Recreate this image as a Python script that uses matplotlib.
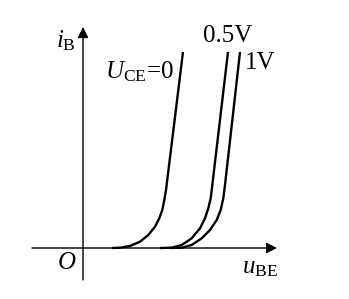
'''transistor input characteristic: i_B vs u_BE for three U_CE values'''

import matplotlib
matplotlib.use('Agg')
import matplotlib.pyplot as plt

plt.rcParams['mathtext.fontset'] = 'custom'
plt.rcParams['mathtext.rm'] = 'Liberation Serif'
plt.rcParams['mathtext.it'] = 'Liberation Serif:italic'
plt.rcParams['font.family'] = 'Liberation Serif'

# curves (u_BE, i_B), arbitrary units
u0 = [0.29, 0.37, 0.47, 0.57, 0.653, 0.72, 0.763, 0.793, 0.813, 0.83, 1.00]
i0 = [0.00, 0.003, 0.02, 0.063, 0.13, 0.213, 0.297, 0.38, 0.48, 0.58, 1.96]

u05 = [0.77, 0.887, 0.987, 1.087, 1.17, 1.22, 1.253, 1.277, 1.293, 1.45]
i05 = [0.00, 0.003, 0.03, 0.097, 0.197, 0.297, 0.397, 0.497, 0.63, 1.96]

u1 = [0.87, 0.987, 1.087, 1.187, 1.27, 1.337, 1.377, 1.403, 1.42, 1.57]
i1 = [0.00, 0.003, 0.03, 0.097, 0.18, 0.28, 0.38, 0.497, 0.63, 1.96]

fig = plt.figure(figsize=(3.49, 2.99), dpi=100)
ax = fig.add_axes([0, 0, 1, 1])
ax.set_xlim(-0.83, 2.66)
ax.set_ylim(-0.51, 2.48)
ax.axis('off')

# axes with arrows
ax.annotate('', xy=(1.94, 0), xytext=(-0.51, 0),
            arrowprops=dict(arrowstyle='-|>', color='black', lw=1.0,
                            mutation_scale=16, shrinkA=0, shrinkB=0))
ax.annotate('', xy=(0, 2.21), xytext=(0, -0.32),
            arrowprops=dict(arrowstyle='-|>', color='black', lw=1.0,
                            mutation_scale=16, shrinkA=0, shrinkB=0))

for u, i in [(u0, i0), (u05, i05), (u1, i1)]:
    ax.plot(u, i, color='black', lw=1.7, solid_capstyle='butt',
            solid_joinstyle='round')

fs = 18
ax.text(-0.17, 2.07, r'$i_{\rm B}$', fontsize=fs, ha='center', va='center')
ax.text(-0.16, -0.15, r'$O$', fontsize=fs, ha='center', va='center')
ax.text(1.77, -0.20, r'$u_{\rm BE}$', fontsize=fs, ha='center', va='center')
ax.text(0.56, 1.76, r'$U_{\rm CE}$=0', fontsize=fs, ha='center', va='center')
ax.text(1.45, 2.12, '0.5V', fontsize=fs, ha='center', va='center')
ax.text(1.62, 1.85, '1V', fontsize=fs, ha='left', va='center')

fig.savefig('out.png', dpi=100)
